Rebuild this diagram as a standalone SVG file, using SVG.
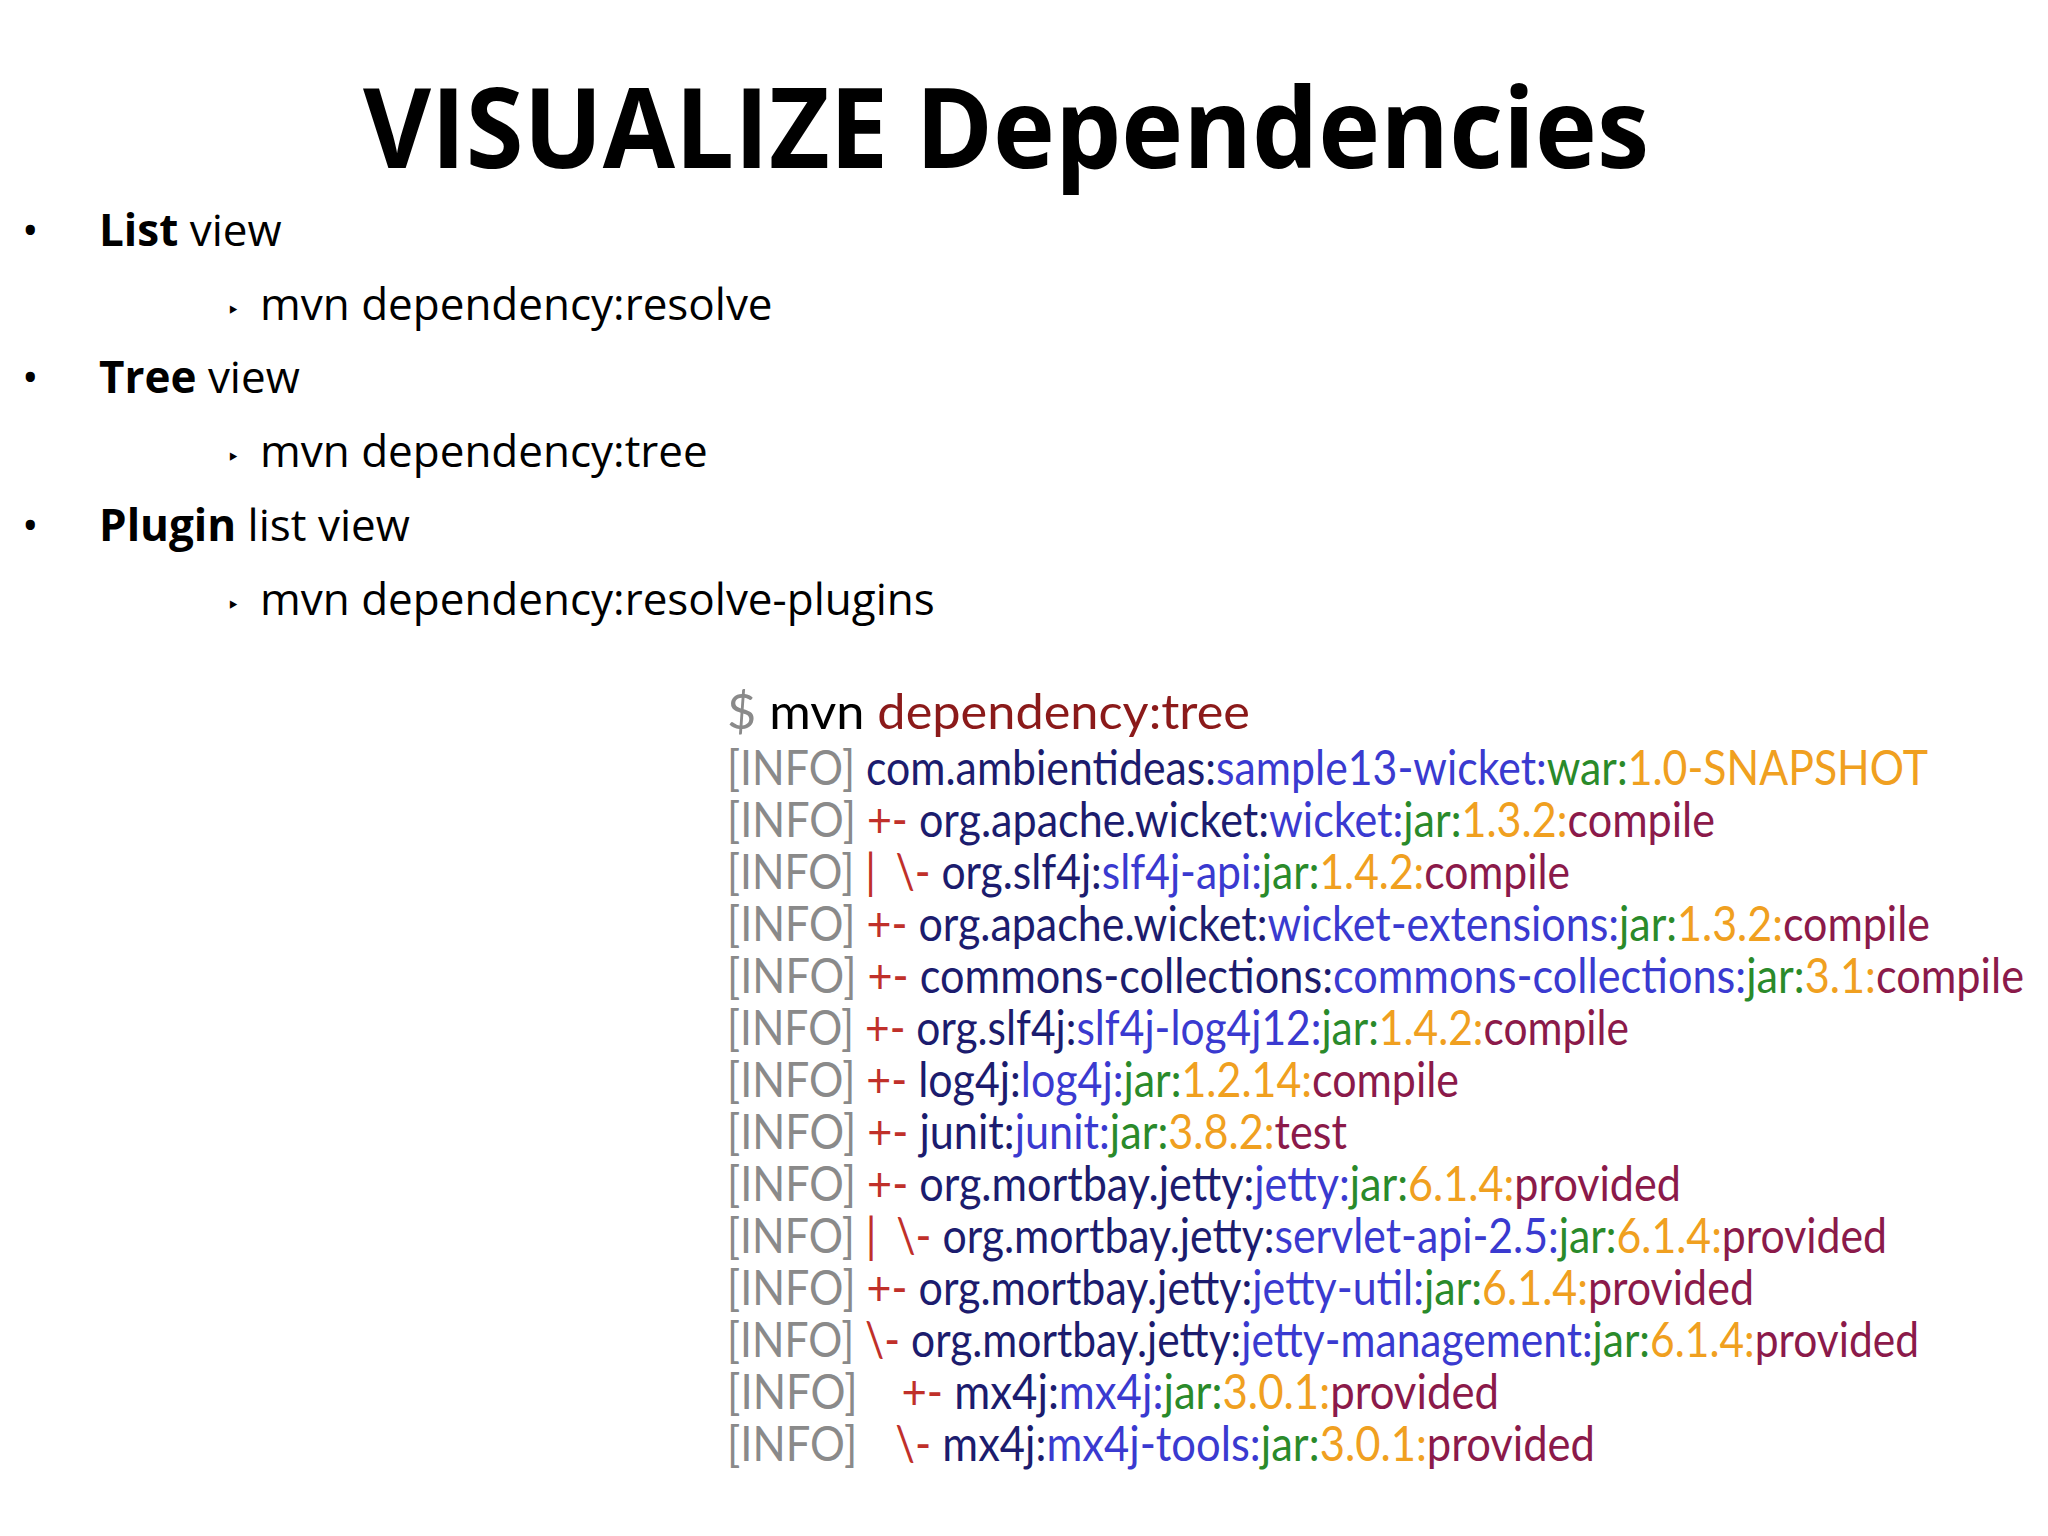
<svg xmlns="http://www.w3.org/2000/svg" width="2048" height="1536" viewBox="0 0 2048 1536">
<style>
.t{font-family:"Open Sans","Liberation Sans",sans-serif;fill:#000}
.b{font-size:44px}
.c{font-family:Lato,"Liberation Sans",sans-serif;font-size:48px}
.i{fill:#8a8a8a}.g{fill:#1c1c6e}.a{fill:#3a3ad0}.j{fill:#2a8a2a}.v{fill:#f0a020}.s{fill:#8b1a4a}.m{fill:#c0302a}
</style>
<rect width="2048" height="1536" fill="#fff"/>
<g id="title"><text class="t" x="1006" y="168" font-size="112" font-weight="bold" text-anchor="middle" textLength="1286" lengthAdjust="spacingAndGlyphs">VISUALIZE Dependencies</text></g>
<g id="bullets" class="t b">
<text x="22" y="246">•</text><text x="99" y="246"><tspan font-weight="bold">List</tspan> view</text>
<text x="228" y="320" font-size="28">‣</text><text x="260" y="320">mvn dependency:resolve</text>
<text x="22" y="393">•</text><text x="99" y="393"><tspan font-weight="bold">Tree</tspan> view</text>
<text x="228" y="467" font-size="28">‣</text><text x="260" y="467">mvn dependency:tree</text>
<text x="22" y="541">•</text><text x="99" y="541"><tspan font-weight="bold">Plugin</tspan> list view</text>
<text x="228" y="615" font-size="28">‣</text><text x="260" y="615">mvn dependency:resolve-plugins</text>
</g>
<g id="console" class="c" transform="translate(0,4)">
<text x="727" y="725" textLength="523" lengthAdjust="spacingAndGlyphs"><tspan class="i">$</tspan> <tspan fill="#000">mvn</tspan> <tspan fill="#8b1a1a">dependency:tree</tspan></text>
<text x="727" y="781" textLength="1201" lengthAdjust="spacingAndGlyphs"><tspan class="i">[INFO]</tspan> <tspan class="g">com.ambientideas:</tspan><tspan class="a">sample13-wicket:</tspan><tspan class="j">war:</tspan><tspan class="v">1.0-SNAPSHOT</tspan></text>
<text x="727" y="833" textLength="988" lengthAdjust="spacingAndGlyphs"><tspan class="i">[INFO]</tspan> <tspan class="m">+-</tspan> <tspan class="g">org.apache.wicket:</tspan><tspan class="a">wicket:</tspan><tspan class="j">jar:</tspan><tspan class="v">1.3.2:</tspan><tspan class="s">compile</tspan></text>
<text x="727" y="885" textLength="843" lengthAdjust="spacingAndGlyphs"><tspan class="i">[INFO]</tspan> <tspan class="m">|</tspan><tspan class="m" dx="22">\-</tspan> <tspan class="g">org.slf4j:</tspan><tspan class="a">slf4j-api:</tspan><tspan class="j">jar:</tspan><tspan class="v">1.4.2:</tspan><tspan class="s">compile</tspan></text>
<text x="727" y="937" textLength="1203" lengthAdjust="spacingAndGlyphs"><tspan class="i">[INFO]</tspan> <tspan class="m">+-</tspan> <tspan class="g">org.apache.wicket:</tspan><tspan class="a">wicket-extensions:</tspan><tspan class="j">jar:</tspan><tspan class="v">1.3.2:</tspan><tspan class="s">compile</tspan></text>
<text x="727" y="989" textLength="1297" lengthAdjust="spacingAndGlyphs"><tspan class="i">[INFO]</tspan> <tspan class="m">+-</tspan> <tspan class="g">commons-collections:</tspan><tspan class="a">commons-collections:</tspan><tspan class="j">jar:</tspan><tspan class="v">3.1:</tspan><tspan class="s">compile</tspan></text>
<text x="727" y="1041" textLength="902" lengthAdjust="spacingAndGlyphs"><tspan class="i">[INFO]</tspan> <tspan class="m">+-</tspan> <tspan class="g">org.slf4j:</tspan><tspan class="a">slf4j-log4j12:</tspan><tspan class="j">jar:</tspan><tspan class="v">1.4.2:</tspan><tspan class="s">compile</tspan></text>
<text x="727" y="1093" textLength="732" lengthAdjust="spacingAndGlyphs"><tspan class="i">[INFO]</tspan> <tspan class="m">+-</tspan> <tspan class="g">log4j:</tspan><tspan class="a">log4j:</tspan><tspan class="j">jar:</tspan><tspan class="v">1.2.14:</tspan><tspan class="s">compile</tspan></text>
<text x="727" y="1145" textLength="620" lengthAdjust="spacingAndGlyphs"><tspan class="i">[INFO]</tspan> <tspan class="m">+-</tspan> <tspan class="g">junit:</tspan><tspan class="a">junit:</tspan><tspan class="j">jar:</tspan><tspan class="v">3.8.2:</tspan><tspan class="s">test</tspan></text>
<text x="727" y="1197" textLength="954" lengthAdjust="spacingAndGlyphs"><tspan class="i">[INFO]</tspan> <tspan class="m">+-</tspan> <tspan class="g">org.mortbay.jetty:</tspan><tspan class="a">jetty:</tspan><tspan class="j">jar:</tspan><tspan class="v">6.1.4:</tspan><tspan class="s">provided</tspan></text>
<text x="727" y="1249" textLength="1160" lengthAdjust="spacingAndGlyphs"><tspan class="i">[INFO]</tspan> <tspan class="m">|</tspan><tspan class="m" dx="22">\-</tspan> <tspan class="g">org.mortbay.jetty:</tspan><tspan class="a">servlet-api-2.5:</tspan><tspan class="j">jar:</tspan><tspan class="v">6.1.4:</tspan><tspan class="s">provided</tspan></text>
<text x="727" y="1301" textLength="1027" lengthAdjust="spacingAndGlyphs"><tspan class="i">[INFO]</tspan> <tspan class="m">+-</tspan> <tspan class="g">org.mortbay.jetty:</tspan><tspan class="a">jetty-util:</tspan><tspan class="j">jar:</tspan><tspan class="v">6.1.4:</tspan><tspan class="s">provided</tspan></text>
<text x="727" y="1353" textLength="1192" lengthAdjust="spacingAndGlyphs"><tspan class="i">[INFO]</tspan> <tspan class="m">\-</tspan> <tspan class="g">org.mortbay.jetty:</tspan><tspan class="a">jetty-management:</tspan><tspan class="j">jar:</tspan><tspan class="v">6.1.4:</tspan><tspan class="s">provided</tspan></text>
<text x="727" y="1405" textLength="772" lengthAdjust="spacingAndGlyphs"><tspan class="i">[INFO]</tspan><tspan class="m" dx="48">+-</tspan> <tspan class="g">mx4j:</tspan><tspan class="a">mx4j:</tspan><tspan class="j">jar:</tspan><tspan class="v">3.0.1:</tspan><tspan class="s">provided</tspan></text>
<text x="727" y="1457" textLength="868" lengthAdjust="spacingAndGlyphs"><tspan class="i">[INFO]</tspan><tspan class="m" dx="42">\-</tspan> <tspan class="g">mx4j:</tspan><tspan class="a">mx4j-tools:</tspan><tspan class="j">jar:</tspan><tspan class="v">3.0.1:</tspan><tspan class="s">provided</tspan></text>
</g>
</svg>
